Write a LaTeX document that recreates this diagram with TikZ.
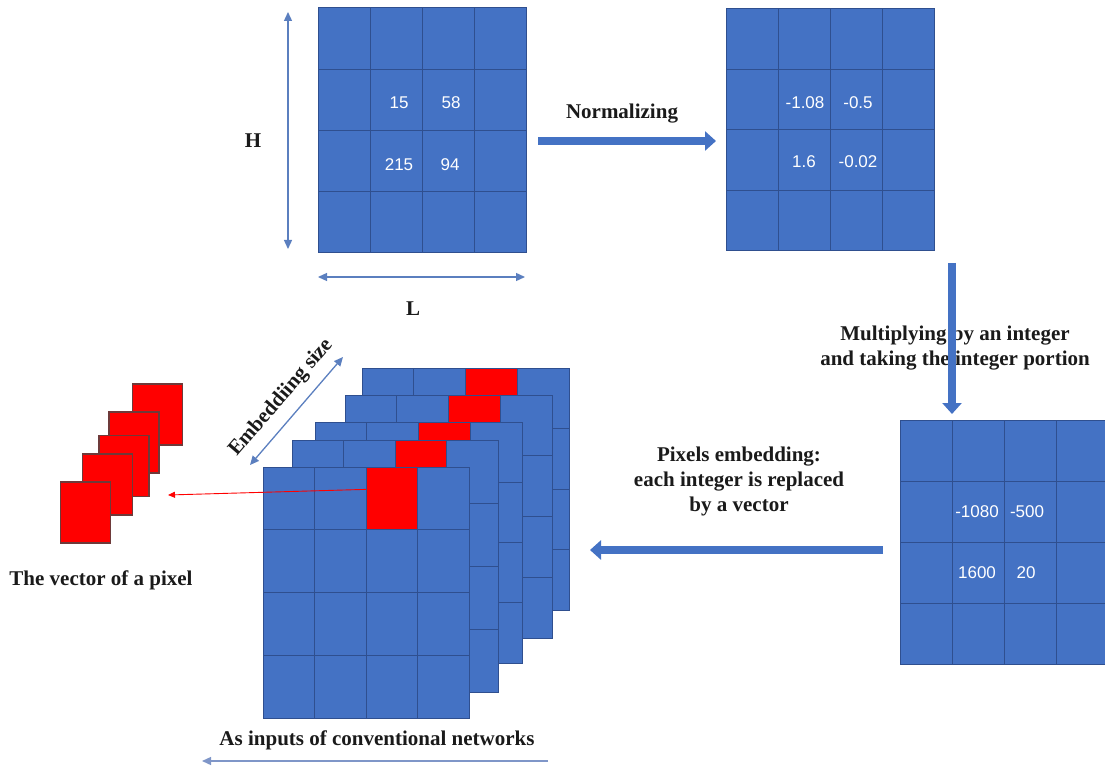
\documentclass[tikz,border=0pt]{standalone}
\usepackage{fontspec}
\setmainfont{Liberation Serif}
\newfontfamily\numfont{Liberation Sans}
\usetikzlibrary{arrows.meta,calc}

\definecolor{cellblue}{HTML}{4472C4}
\definecolor{cellline}{HTML}{2F4F8F}
\definecolor{thinblue}{HTML}{5B7FBF}
\definecolor{paleblue}{HTML}{7F96C8}
\definecolor{vecborder}{HTML}{6E3A3A}
\definecolor{labelink}{HTML}{1A1A1A}

\tikzset{
  gridbox/.style={draw=cellline, fill=cellblue, line width=1pt, inner sep=0pt, outer sep=0pt, anchor=north west},
  gridline/.style={draw=cellline, line width=1pt},
  redcell/.style={draw=cellline, fill=red, line width=1pt, inner sep=0pt, outer sep=0pt, anchor=north west},
  vecbox/.style={draw=vecborder, fill=red, line width=1.5pt, inner sep=0pt, outer sep=0pt, minimum width=50pt, minimum height=61pt},
  numtext/.style={text=white, font=\numfont\fontsize{17}{20}\selectfont, inner sep=0pt},
  lbl/.style={text=labelink, font=\bfseries\fontsize{21}{25}\selectfont, align=center, inner sep=0pt},
  fatarrow/.style={draw=cellblue, line width=8.5pt, -{Triangle[width=19pt,length=11pt]}},
  dimarrow/.style={draw=thinblue, line width=1.3pt, {Triangle[width=8pt,length=9pt]}-{Triangle[width=8pt,length=9pt]}},
  palearrow/.style={draw=paleblue, line width=1.3pt, -{Triangle[width=8pt,length=9pt]}},
  redarrow/.style={draw=red, line width=0.9pt, -{Triangle[width=6pt,length=7pt]}}
}

% #1 name, #2 x, #3 y (top-left), #4 cell width, #5 cell height
\newcommand{\cellgrid}[5]{%
  \node[gridbox, minimum width={4*#4pt}, minimum height={4*#5pt}] (#1) at (#2,#3) {};
  \foreach \k in {1,2,3}{
    \draw[gridline] ($(#1.north west)+(\k*#4,0)$) -- ($(#1.south west)+(\k*#4,0)$);
    \draw[gridline] ($(#1.north west)+(0,\k*#5)$) -- ($(#1.north east)+(0,\k*#5)$);
  }%
}

\begin{document}
\begin{tikzpicture}[x=1pt,y=-1pt]
\useasboundingbox (0,0) rectangle (1105,767);

% ---------- grid 1 (raw pixels) ----------
\cellgrid{ga}{318}{8}{52}{61.25}
\node[numtext] (a15)  at (399,103) {15};
\node[numtext] (a58)  at (451,103) {58};
\node[numtext] (a215) at (399,165) {215};
\node[numtext] (a94)  at (450,165) {94};

\coordinate (ht) at (288,12);
\coordinate (hb) at (288,249);
\draw[dimarrow] (ht) -- (hb);
\node[lbl] (hlab) at (253,141) {H};

\coordinate (ll) at (318,277);
\coordinate (lr) at (525,277);
\draw[dimarrow] (ll) -- (lr);
\node[lbl] (llab) at (413,309) {L};

% ---------- grid 2 (normalized) ----------
\cellgrid{gb}{726}{9}{52}{60.5}
\node[numtext] (b1) at (805,103) {-1.08};
\node[numtext] (b2) at (858,103) {-0.5};
\node[numtext] (b3) at (804,162) {1.6};
\node[numtext] (b4) at (858,162) {-0.02};

\coordinate (na) at (538,141);
\coordinate (nb) at (716,141);
\draw[fatarrow] (na) -- (nb);
\node[lbl] (normlab) at (622,114) {Normalizing};

% ---------- grid 3 (integers) ----------
\cellgrid{gc}{900}{420}{52}{61}
\node[numtext] (c1) at (977,512) {-1080};
\node[numtext] (c2) at (1027,512) {-500};
\node[numtext] (c3) at (977,573) {1600};
\node[numtext] (c4) at (1026,573) {20};

\node[lbl] (multlab) at (955,348) {Multiplying by an integer\\and taking the integer portion};
\coordinate (da) at (952,263);
\coordinate (db) at (952,414);
\draw[fatarrow] (da) -- (db);

\node[lbl] (pixlab) at (739,481) {Pixels embedding:\\each integer is replaced\\by a vector};
\coordinate (pa) at (883,550);
\coordinate (pb) at (590,550);
\draw[fatarrow] (pa) -- (pb);

% ---------- stacked embedding grids ----------
\cellgrid{s5}{362}{368}{51.75}{60.5}
\node[redcell, minimum width=51.75pt, minimum height=60.5pt] (r5) at (465.5,368) {};
\cellgrid{s4}{345}{395}{51.75}{60.75}
\node[redcell, minimum width=51.75pt, minimum height=60.75pt] (r4) at (448.5,395) {};
\cellgrid{s3}{315}{422}{51.75}{60.25}
\node[redcell, minimum width=51.75pt, minimum height=60.25pt] (r3) at (418.5,422) {};
\cellgrid{s2}{292}{440}{51.5}{63}
\node[redcell, minimum width=51.5pt, minimum height=63pt] (r2) at (395,440) {};
\cellgrid{s1}{263}{467}{51.5}{62.75}
\node[redcell, minimum width=51.5pt, minimum height=62.75pt] (r1) at (366,467) {};

\coordinate (ea) at (250,465);
\coordinate (eb) at (343,357);
\draw[dimarrow] (ea) -- node[lbl, sloped, above=10pt] (emblab) {Embeddiing size} (eb);

% ---------- vector of a pixel ----------
\node[vecbox] (v5) at (157.5,414.5) {};
\node[vecbox] (v4) at (134,442.5) {};
\node[vecbox] (v3) at (124,466) {};
\node[vecbox] (v2) at (107.5,484.5) {};
\node[vecbox] (v1) at (85.5,512.5) {};

\coordinate (vt) at (168,495);
\draw[redarrow] ($(r1.west)+(0,-9)$) -- (vt);

\node[lbl] (veclab) at (101,580) {The vector of a pixel};

% ---------- bottom ----------
\node[lbl] (inlab) at (377,740) {As inputs of conventional networks};
\coordinate (ba) at (548,761);
\coordinate (bb) at (202,761);
\draw[palearrow] (ba) -- (bb);
\end{tikzpicture}
\end{document}
